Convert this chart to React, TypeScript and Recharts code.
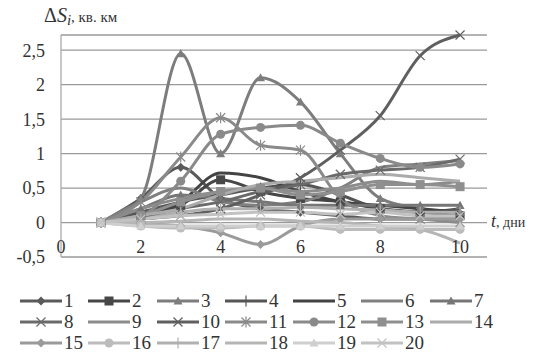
import { LineChart, Line, XAxis, YAxis, CartesianGrid } from "recharts";

const days = [1, 2, 3, 4, 5, 6, 7, 8, 9, 10];
const xTicks = [0, 2, 4, 6, 8, 10];
const yTicks = [-0.5, 0, 0.5, 1, 1.5, 2, 2.5];

const s1 = [0, 0.35, 0.8, 0.35, 0.2, 0.15, 0.1, 0.05, 0.05, 0.05];
const s2 = [0, 0.1, 0.25, 0.62, 0.45, 0.35, 0.3, 0.2, 0.15, 0.1];
const s3 = [0, 0.35, 2.45, 1.0, 2.1, 1.75, 1.0, 0.35, 0.2, 0.15];
const s4 = [0, 0.15, 0.3, 0.4, 0.5, 0.55, 0.4, 0.2, 0.15, 0.2];
const s5 = [0, 0.05, 0.3, 0.72, 0.65, 0.45, 0.3, 0.25, 0.2, 0.15];
const s6 = [0, 0.3, 0.5, 0.3, 0.25, 0.3, 0.5, 0.8, 0.85, 0.9];
const s7 = [0, 0.2, 0.4, 0.35, 0.3, 0.25, 0.25, 0.25, 0.25, 0.25];
const s8 = [0, 0.05, 0.2, 0.3, 0.45, 0.55, 0.7, 0.76, 0.8, 0.92];
const s9 = [0, 0.2, 0.35, 0.45, 0.5, 0.45, 0.5, 0.6, 0.55, 0.6];
const s10 = [0, 0.05, 0.1, 0.2, 0.4, 0.65, 1.05, 1.55, 2.42, 2.72];
const s11 = [0, 0.3, 0.95, 1.52, 1.12, 1.05, 0.35, 0.1, 0.05, 0.0];
const s12 = [0, 0.1, 0.6, 1.28, 1.38, 1.41, 1.15, 0.93, 0.8, 0.85];
const s13 = [0, 0.1, 0.3, 0.45, 0.5, 0.4, 0.45, 0.55, 0.55, 0.52];
const s14 = [0, 0.1, 0.2, 0.4, 0.55, 0.6, 0.65, 0.7, 0.65, 0.6];
const s15 = [0, -0.02, -0.05, -0.15, -0.32, -0.05, 0.05, 0.05, 0.05, 0.05];
const s16 = [0, -0.05, -0.08, -0.08, -0.05, -0.05, -0.1, -0.1, -0.1, -0.1];
const s17 = [0, 0.05, 0.15, 0.2, 0.2, 0.22, 0.2, 0.18, 0.15, 0.15];
const s18 = [0, 0.0, 0.02, 0.05, 0.05, 0.02, 0.0, -0.05, -0.1, -0.3];
const s19 = [0, -0.05, -0.05, -0.05, -0.05, -0.05, -0.05, -0.05, -0.05, -0.05];
const s20 = [0, 0.05, 0.1, 0.12, 0.15, 0.15, 0.12, 0.15, 0.1, 0.1];

const seriesValues = [s1, s2, s3, s4, s5, s6, s7, s8, s9, s10, s11, s12, s13, s14, s15, s16, s17, s18, s19, s20];
const seriesNames = ["1", "2", "3", "4", "5", "6", "7", "8", "9", "10", "11", "12", "13", "14", "15", "16", "17", "18", "19", "20"];

type Shape = "diamond" | "square" | "triangle" | "plus" | "none" | "x" | "star" | "circle";

const styles: { color: string; shape: Shape }[] = [
  { color: "#5a5a5a", shape: "diamond" },
  { color: "#474747", shape: "square" },
  { color: "#7d7d7d", shape: "triangle" },
  { color: "#555555", shape: "plus" },
  { color: "#434343", shape: "none" },
  { color: "#808080", shape: "none" },
  { color: "#767676", shape: "triangle" },
  { color: "#6a6a6a", shape: "x" },
  { color: "#8c8c8c", shape: "none" },
  { color: "#5f5f5f", shape: "x" },
  { color: "#8a8a8a", shape: "star" },
  { color: "#8a8a8a", shape: "circle" },
  { color: "#8f8f8f", shape: "square" },
  { color: "#ababab", shape: "none" },
  { color: "#9a9a9a", shape: "diamond" },
  { color: "#bcbcbc", shape: "circle" },
  { color: "#b0b0b0", shape: "plus" },
  { color: "#b5b5b5", shape: "none" },
  { color: "#cfcfcf", shape: "triangle" },
  { color: "#c2c2c2", shape: "x" },
];

const data = days.map((d, i) => {
  const row: Record<string, number> = { t: d };
  seriesValues.forEach((vals, k) => {
    row["s" + (k + 1)] = vals[i];
  });
  return row;
});

const serif = "Liberation Serif, DejaVu Serif, Times New Roman, serif";

function Marker({ cx, cy, shape, color }: { cx: number; cy: number; shape: Shape; color: string }) {
  const r = 4.5;
  switch (shape) {
    case "diamond":
      return <path d={`M${cx},${cy - r} L${cx + r},${cy} L${cx},${cy + r} L${cx - r},${cy} Z`} fill={color} />;
    case "square":
      return <rect x={cx - r} y={cy - r} width={2 * r} height={2 * r} fill={color} />;
    case "triangle":
      return <path d={`M${cx},${cy - r} L${cx + r},${cy + r * 0.8} L${cx - r},${cy + r * 0.8} Z`} fill={color} />;
    case "circle":
      return <circle cx={cx} cy={cy} r={r} fill={color} />;
    case "plus":
      return <path d={`M${cx},${cy - r - 1} V${cy + r + 1}`} stroke={color} strokeWidth={1.2} />;
    case "x":
      return (
        <path
          d={`M${cx - r},${cy - r} L${cx + r},${cy + r} M${cx - r},${cy + r} L${cx + r},${cy - r}`}
          stroke={color}
          strokeWidth={1.2}
        />
      );
    case "star":
      return (
        <path
          d={`M${cx - r},${cy - r} L${cx + r},${cy + r} M${cx - r},${cy + r} L${cx + r},${cy - r} M${cx},${cy - r - 1} V${cy + r + 1}`}
          stroke={color}
          strokeWidth={1.2}
        />
      );
    default:
      return <g />;
  }
}

function XTick(props: any) {
  const { x, y, payload } = props;
  return (
    <text x={x} y={y - 4} textAnchor="middle" fontSize={18} fontFamily={serif} fill="#333">
      {payload.value}
    </text>
  );
}

const fmtY = (v: number) => String(v).replace(".", ",");

const legendCols = [20, 88, 157, 225, 293, 361, 430];

function LegendBox() {
  return (
    <div style={{ position: "absolute", left: 0, top: 290, width: 539, height: 65 }}>
      {styles.map((st, i) => {
        const col = i % 7;
        const row = Math.floor(i / 7);
        return (
          <div
            key={i}
            style={{
              position: "absolute",
              left: legendCols[col],
              top: row * 21,
              display: "flex",
              alignItems: "center",
              height: 22,
            }}
          >
            <svg width={42} height={14}>
              <line x1={0} y1={7} x2={42} y2={7} stroke={st.color} strokeWidth={3} />
              <Marker cx={21} cy={7} shape={st.shape} color={st.color} />
            </svg>
            <span style={{ fontFamily: serif, fontSize: 19, color: "#333", marginLeft: 2, lineHeight: "22px" }}>
              {seriesNames[i]}
            </span>
          </div>
        );
      })}
    </div>
  );
}

export default function App() {
  return (
    <div style={{ position: "absolute", left: 0, top: 0, width: 539, height: 355, background: "#fff" }}>
      <LineChart width={539} height={300} data={data} margin={{ top: 35, right: 52, bottom: 13, left: 0 }}>
        <CartesianGrid vertical={false} stroke="#9a9a9a" strokeWidth={1.3} />
        <XAxis
          dataKey="t"
          type="number"
          domain={[0, 10.675]}
          ticks={xTicks}
          axisLine={false}
          tickLine={false}
          tickSize={0}
          tickMargin={0}
          height={30}
          tick={XTick}
          allowDataOverflow
        />
        <YAxis
          width={61}
          domain={[-0.5, 2.5]}
          ticks={yTicks}
          tickFormatter={fmtY}
          axisLine={{ stroke: "#aaaaaa", strokeWidth: 1.3 }}
          tickLine={false}
          tickSize={0}
          tickMargin={16}
          tick={{ fontSize: 18, fontFamily: serif, fill: "#333" }}
        />
        {styles.map((st, k) => (
          <Line
            key={k}
            dataKey={"s" + (k + 1)}
            name={seriesNames[k]}
            type="monotone"
            stroke={st.color}
            strokeWidth={3}
            isAnimationActive={false}
            dot={(p: any) => <Marker key={p.index} cx={p.cx} cy={p.cy} shape={st.shape} color={st.color} />}
            activeDot={false}
          />
        ))}
      </LineChart>
      <div style={{ position: "absolute", left: 44, top: 4, fontFamily: serif, color: "#333", whiteSpace: "nowrap" }}>
        <span style={{ fontSize: 20 }}>Δ</span>
        <span style={{ fontSize: 20, fontStyle: "italic" }}>S</span>
        <span style={{ fontSize: 15, fontStyle: "italic", verticalAlign: "-3px" }}>i</span>
        <span style={{ fontSize: 15 }}>, кв. км</span>
      </div>
      <div style={{ position: "absolute", left: 491, top: 211, fontFamily: serif, color: "#333", whiteSpace: "nowrap" }}>
        <span style={{ fontSize: 18, fontStyle: "italic" }}>t</span>
        <span style={{ fontSize: 14 }}>, дни</span>
      </div>
      <LegendBox />
    </div>
  );
}
